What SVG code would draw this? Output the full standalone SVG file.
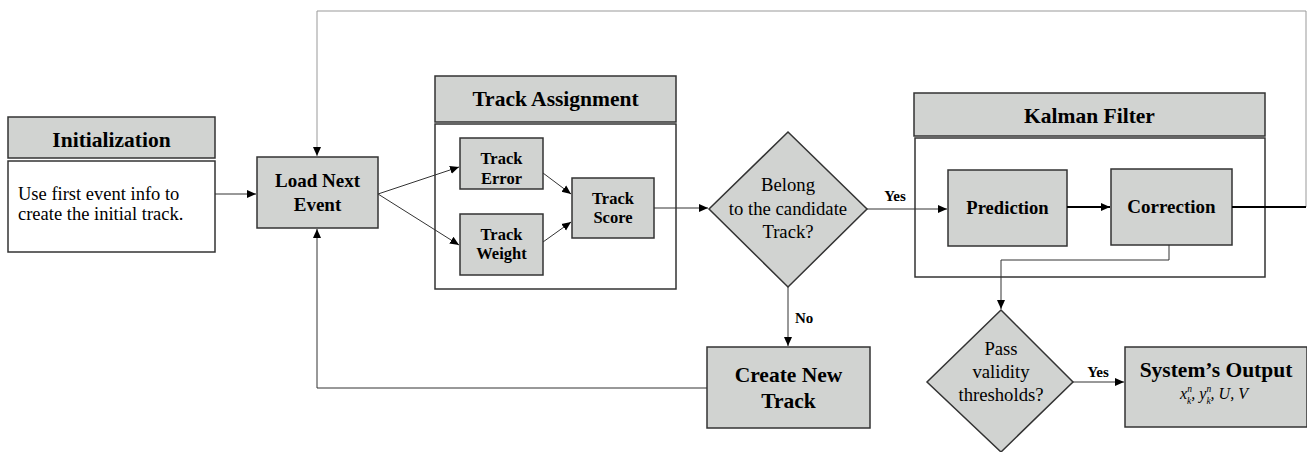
<svg xmlns="http://www.w3.org/2000/svg" width="1307" height="452" viewBox="0 0 1307 452">
<style>
.g{fill:#d1d3d1;stroke:#333;stroke-width:1.5}
.w{fill:#fff;stroke:#333;stroke-width:1.5}
text{font-family:'Liberation Serif','Times New Roman',serif;fill:#000;text-anchor:middle}
.b{font-weight:bold}
.s{text-anchor:start}
.c{fill:none;stroke:#333;stroke-width:1}
.k{fill:none;stroke:#000;stroke-width:2}
.gr{fill:none;stroke:#999;stroke-width:1}
</style>
<defs>
<marker id="a" markerUnits="userSpaceOnUse" markerWidth="10" markerHeight="10" refX="9" refY="5" orient="auto"><path d="M0,1 L9,5 L0,9 Z" fill="#000"/></marker>
</defs>
<g id="initialization">
<rect class="g" x="8" y="117" width="207" height="41"/>
<text class="b" x="111.5" y="147" font-size="21.5" font-family="Liberation Serif, serif">Initialization</text>
<rect class="w" x="8" y="161" width="207" height="91"/>
<text class="s" x="18" y="200" font-size="18.5" font-family="Liberation Serif, serif">Use first event info to</text>
<text class="s" x="18" y="220" font-size="18.5" font-family="Liberation Serif, serif">create the initial track.</text>
</g>
<g id="load-next-event">
<rect class="g" x="257" y="157" width="121" height="71"/>
<text class="b" x="317.5" y="187" font-size="19" font-family="Liberation Serif, serif">Load Next</text>
<text class="b" x="317.5" y="211" font-size="19" font-family="Liberation Serif, serif">Event</text>
</g>
<g id="track-assignment">
<rect class="g" x="435" y="76" width="241" height="46"/>
<text class="b" x="555.5" y="106" font-size="21.5" font-family="Liberation Serif, serif">Track Assignment</text>
<rect class="w" x="435" y="124" width="241" height="165"/>
</g>
<g id="track-error">
<rect class="g" x="460" y="138" width="83" height="51"/>
<text class="b" x="501.5" y="164" font-size="16.5" font-family="Liberation Serif, serif">Track</text>
<text class="b" x="501.5" y="184" font-size="16.5" font-family="Liberation Serif, serif">Error</text>
</g>
<g id="track-weight">
<rect class="g" x="460" y="214" width="83" height="61"/>
<text class="b" x="501.5" y="240" font-size="16.5" font-family="Liberation Serif, serif">Track</text>
<text class="b" x="501.5" y="259" font-size="16.5" font-family="Liberation Serif, serif">Weight</text>
</g>
<g id="track-score">
<rect class="g" x="572" y="178" width="82" height="60"/>
<text class="b" x="613" y="204" font-size="16.5" font-family="Liberation Serif, serif">Track</text>
<text class="b" x="613" y="223" font-size="16.5" font-family="Liberation Serif, serif">Score</text>
</g>
<g id="belong-decision">
<path class="g" d="M788,132 L867,209 L788,287 L709,209 Z"/>
<text x="788" y="191" font-size="18.7" font-family="Liberation Serif, serif">Belong</text>
<text x="788" y="215" font-size="18.7" font-family="Liberation Serif, serif">to the candidate</text>
<text x="788" y="238" font-size="18.7" font-family="Liberation Serif, serif">Track?</text>
</g>
<g id="kalman-filter">
<rect class="g" x="914" y="93" width="351" height="43"/>
<text class="b" x="1089.5" y="123" font-size="21.5" font-family="Liberation Serif, serif">Kalman Filter</text>
<rect x="915" y="138" width="350" height="139" fill="none" stroke="#333" stroke-width="1.5"/>
</g>
<g id="prediction">
<rect class="g" x="948" y="170" width="119" height="76"/>
<text class="b" x="1007.5" y="214" font-size="18.6" font-family="Liberation Serif, serif">Prediction</text>
</g>
<g id="correction">
<rect class="g" x="1111" y="169" width="121" height="76"/>
<text class="b" x="1171.5" y="213" font-size="19" font-family="Liberation Serif, serif">Correction</text>
</g>
<g id="create-new-track">
<rect class="g" x="707" y="347" width="163" height="81"/>
<text class="b" x="788.5" y="382" font-size="21.5" font-family="Liberation Serif, serif">Create New</text>
<text class="b" x="788.5" y="408" font-size="21.5" font-family="Liberation Serif, serif">Track</text>
</g>
<g id="validity-decision">
<path class="g" d="M1001,310 L1073,382 L1001,452 L927,382 Z"/>
<text x="1001" y="355" font-size="18.7" font-family="Liberation Serif, serif">Pass</text>
<text x="1001" y="378" font-size="18.7" font-family="Liberation Serif, serif">validity</text>
<text x="1001" y="401" font-size="18.7" font-family="Liberation Serif, serif">thresholds?</text>
</g>
<g id="systems-output">
<rect class="g" x="1125" y="347" width="182" height="80"/>
<text class="b" x="1216" y="377" font-size="21.5" font-family="Liberation Serif, serif">System’s Output</text>
<text x="1214" y="399" font-size="16" font-style="italic" font-family="Liberation Serif, serif">x<tspan font-size="9.5" dy="-7">n</tspan><tspan font-size="9.5" dx="-4.8" dy="12">k</tspan><tspan dy="-5">, y</tspan><tspan font-size="9.5" dy="-7">n</tspan><tspan font-size="9.5" dx="-4.8" dy="12">k</tspan><tspan dy="-5">, U, V</tspan></text>
</g>
<g id="connectors">
<path class="gr" d="M1306,207 V11 H317 V156" marker-end="url(#a)"/>
<path class="k" d="M1232,207 H1306"/>
<path class="c" d="M215,194 H256" marker-end="url(#a)"/>
<path class="c" d="M378,194 L459,167" marker-end="url(#a)"/>
<path class="c" d="M378,194 L459,245" marker-end="url(#a)"/>
<path class="c" d="M543,173 L571,194" marker-end="url(#a)"/>
<path class="c" d="M543,242 L571,222" marker-end="url(#a)"/>
<path class="c" d="M654,208 H708" marker-end="url(#a)"/>
<path class="c" d="M867,209 H947" marker-end="url(#a)"/>
<path class="k" d="M1067,207 H1110" marker-end="url(#a)"/>
<path class="c" d="M1169,245 V260 H1001 V309" marker-end="url(#a)"/>
<path class="c" d="M788,287 V346" marker-end="url(#a)"/>
<path class="c" stroke="#555" d="M707,388 H317 V229" marker-end="url(#a)"/>
<path class="c" d="M1073,382 H1124" marker-end="url(#a)"/>
<text class="b" x="895" y="201" font-size="15" font-family="Liberation Serif, serif">Yes</text>
<text class="b s" x="795" y="323" font-size="15" font-family="Liberation Serif, serif">No</text>
<text class="b" x="1098" y="377" font-size="15" font-family="Liberation Serif, serif">Yes</text>
</g>
</svg>
